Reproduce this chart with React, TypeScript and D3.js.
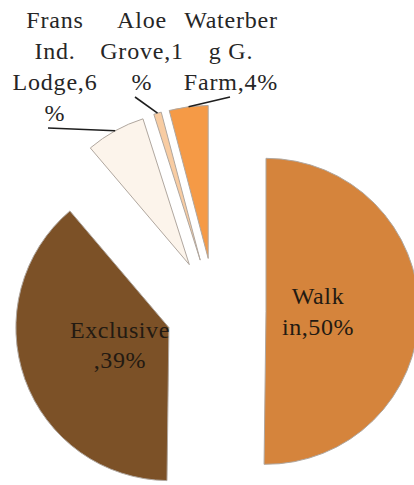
import React from 'react';
import * as d3 from 'd3';

// ---- data ----
const categories = ['Walk in', 'Exclusive', 'Frans Ind. Lodge', 'Aloe Grove', 'Waterberg G. Farm'];
const values = [50.2, 38.6, 6.3, 0.8, 4.1];
const labelLines = [
  ['Walk', 'in,50%'],
  ['Exclusive', ',39%'],
  ['Frans', 'Ind.', 'Lodge,6', '%'],
  ['Aloe', 'Grove,1', '%'],
  ['Waterber', 'g G.', 'Farm,4%'],
];

// ---- styles / layout ----
const colors = ['#D5843C', '#7C5127', '#FCF4EB', '#F8CCA2', '#F59A46'];
const explode = [51, 49, 53, 53, 53];
const inside = [true, true, false, false, false];
// outside label: center x, first baseline, leader start point
const outside: Record<number, { x: number; y: number; lx: number; ly: number }> = {
  2: { x: 55, y: 28, lx: 48, ly: 128 },
  3: { x: 142, y: 28, lx: 135, ly: 97 },
  4: { x: 231, y: 28, lx: 230, ly: 97 },
};

const W = 414;
const H = 485;
const CX = 215;
const CY = 311;
const R = 153;
const FONT = 'Liberation Serif';
const FS = 24;
const LH = 30.5;

export default function App() {
  const pie = d3
    .pie<number>()
    .sort(null)
    .value((d) => d)
    .startAngle(0)
    .endAngle(2 * Math.PI);
  const arcs = pie(values);
  const arc = d3.arc<d3.PieArcDatum<number>>().innerRadius(0).outerRadius(R);

  return (
    <svg
      width={W}
      height={H}
      viewBox={`0 0 ${W} ${H}`}
      style={{ position: 'absolute', left: 0, top: 0, background: '#fff' }}
    >
      <rect width={W} height={H} fill="#fff" />
      {arcs.map((a, i) => {
        const mid = (a.startAngle + a.endAngle) / 2;
        const ox = Math.sin(mid) * explode[i];
        const oy = -Math.cos(mid) * explode[i];
        const px = CX + ox;
        const py = CY + oy;
        const lines = labelLines[i];
        let label: React.ReactNode = null;
        let leader: React.ReactNode = null;
        if (inside[i]) {
          const lr = R * 0.34;
          const tx = px + Math.sin(mid) * lr;
          const ty = py - Math.cos(mid) * lr;
          const first = ty - ((lines.length - 1) * LH) / 2 + FS * 0.33;
          label = (
            <text
              x={tx}
              y={first}
              textAnchor="middle"
              fontFamily={FONT}
              fontSize={FS}
              letterSpacing={0.6}
              fill="#231a12"
            >
              {lines.map((l, k) => (
                <tspan key={k} x={tx} y={first + k * LH}>
                  {l}
                </tspan>
              ))}
            </text>
          );
        } else {
          const o = outside[i];
          const ex = px + Math.sin(mid) * R;
          const ey = py - Math.cos(mid) * R;
          leader = <line x1={o.lx} y1={o.ly} x2={ex} y2={ey} stroke="#1e1e1e" strokeWidth={1.6} />;
          label = (
            <text
              x={o.x}
              y={o.y}
              textAnchor="middle"
              fontFamily={FONT}
              fontSize={FS}
              letterSpacing={0.8}
              fill="#262626"
            >
              {lines.map((l, k) => (
                <tspan key={k} x={o.x} y={o.y + k * 31}>
                  {l}
                </tspan>
              ))}
            </text>
          );
        }
        return (
          <g key={categories[i]}>
            <path
              d={arc(a) || ''}
              transform={`translate(${px},${py})`}
              fill={colors[i]}
              stroke="#b0a79f"
              strokeWidth={1}
              strokeLinejoin="round"
            />
            {leader}
            {label}
          </g>
        );
      })}
    </svg>
  );
}
